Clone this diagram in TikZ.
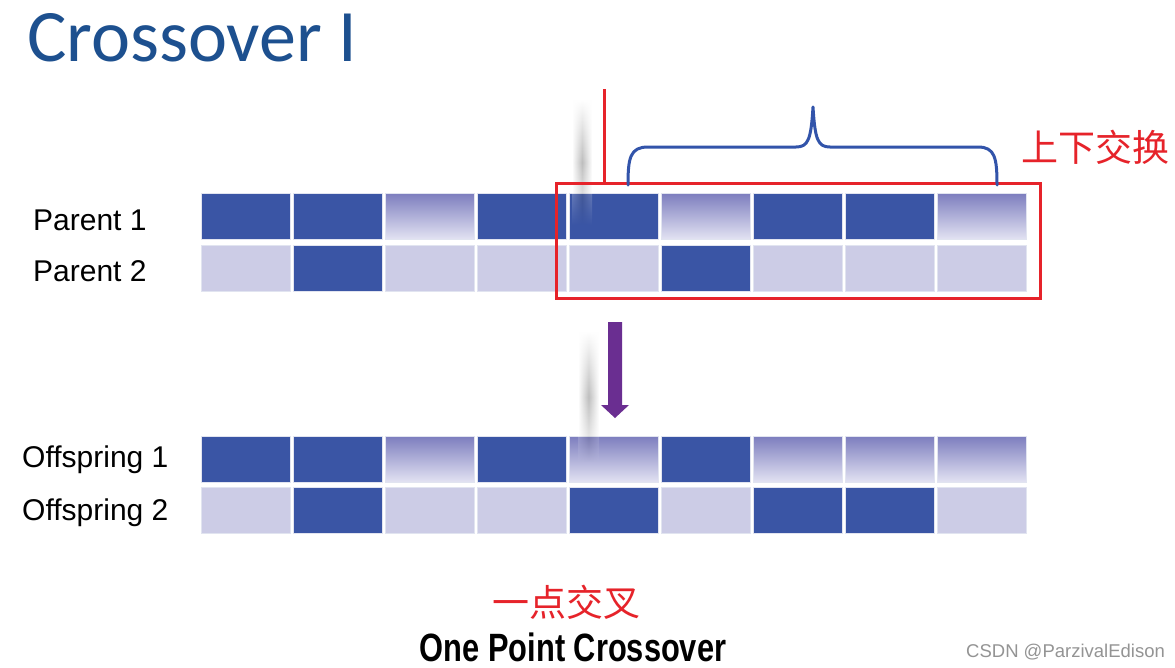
\documentclass[tikz,border=0pt]{standalone}
\usepackage{fontspec}
\setmainfont{Liberation Sans}
\newfontfamily\cjk{Noto Sans CJK SC}
\newfontfamily\titlefont{Carlito}
\usetikzlibrary{fadings}
\definecolor{dk}{RGB}{58,85,165}
\definecolor{lt}{RGB}{204,204,230}
\definecolor{gtop}{RGB}{124,125,190}
\definecolor{gbot}{RGB}{226,226,242}
\definecolor{cellline}{RGB}{225,228,240}
\definecolor{titleblue}{RGB}{29,80,143}
\definecolor{swapred}{RGB}{230,35,42}
\definecolor{bracecol}{RGB}{50,84,170}
\definecolor{arrowpurple}{RGB}{106,46,145}
\tikzfading[name=fadeboth, top color=transparent!100, bottom color=transparent!100, middle color=transparent!15]
\tikzset{
  cell/.style={minimum width=89pt, minimum height=46pt, inner sep=0pt, outer sep=0pt, draw=cellline, line width=0.6pt},
  cellD/.style={cell, fill=dk},
  cellL/.style={cell, fill=lt},
  cellG/.style={cell, top color=gtop, bottom color=gbot},
  rowlabel/.style={anchor=base west, inner sep=0pt, font=\fontsize{30}{36}\selectfont},
  redbox/.style={draw=swapred, line width=3pt, minimum width=484pt, minimum height=115pt, inner sep=0pt},
  cutline/.style={draw=swapred, line width=3pt},
  bracestyle/.style={draw=bracecol, line width=3pt, line cap=round, line join=round},
  shadowstrip/.style={left color=white, right color=white, middle color=black!60, path fading=fadeboth, opacity=0.5}
}
\newcommand{\rowcells}[3]{%
  \foreach \t [count=\i] in {#3} {%
    \edef\tmp{\noexpand\node[cell\t] (#1-\i) at ({245.5+92*(\i-1)},#2) {};}%
    \tmp
  }}
\begin{document}
\begin{tikzpicture}[x=1pt, y=-1pt]
\useasboundingbox (0,0) rectangle (1175,667);
\fill[white] (0,0) rectangle (1175,667);

% title
\node[anchor=base west, inner sep=0pt, text=titleblue, font=\titlefont\fontsize{74}{80}\selectfont] (title) at (27,61) {Crossover I};

% rows
\rowcells{pa}{216}{D,D,G,D,D,G,D,D,G}
\rowcells{pb}{268}{L,D,L,L,L,D,L,L,L}
\rowcells{oa}{459}{D,D,G,D,G,D,G,G,G}
\rowcells{ob}{510.5}{L,D,L,L,D,L,D,D,L}

% row labels
\node[rowlabel] (lpa) at (33,230) {Parent 1};
\node[rowlabel] (lpb) at (33,281) {Parent 2};
\node[rowlabel] (loa) at (22,467) {Offspring 1};
\node[rowlabel] (lob) at (22,520) {Offspring 2};

% shadows
\shade[shadowstrip] (572,100) rectangle (592,225);
\shade[shadowstrip] (578,332) rectangle (599,462);

% swap box and cut line
\node[redbox] (swap) at (798,240.5) {};
\coordinate (cuttop) at (604,89);
\draw[cutline] (cuttop) -- (cuttop |- swap.north);

% brace
\coordinate (lbr) at (628,185);
\coordinate (rbr) at (997,185);
\coordinate (tip) at (813,107);
\draw[bracestyle] (lbr) .. controls (628,158) and (630,147) .. (648,147) -- (796,147)
   .. controls (808,147) and (811,140) .. (tip)
   .. controls (815,140) and (818,147) .. (830,147) -- (978,147)
   .. controls (995,147) and (997,158) .. (rbr);
\node[text=swapred, font=\cjk\fontsize{37}{40}\selectfont, inner sep=0pt] (swaplabel) at (1095,147) {上下交换};

% arrow
\coordinate (arrtop) at (615,322);
\coordinate (arrtip) at (615,418);
\fill[arrowpurple] ([xshift=-7pt]arrtop) -- ([xshift=7pt]arrtop) -- ([xshift=7pt,yshift=13pt]arrtip)
  -- ([xshift=14pt,yshift=13pt]arrtip) -- (arrtip) -- ([xshift=-14pt,yshift=13pt]arrtip)
  -- ([xshift=-7pt,yshift=13pt]arrtip) -- cycle;

% captions
\node[text=swapred, font=\cjk\fontsize{37}{40}\selectfont, inner sep=0pt] (cn) at (566,602) {一点交叉};
\node[anchor=base, inner sep=0pt, font=\bfseries\fontsize{39.5}{44}\selectfont] (en) at (573,661) {\scalebox{0.78}[1]{One Point Crossover}};
\node[anchor=base west, inner sep=0pt, text=black!42, font=\fontsize{18.5}{20}\selectfont] (wm) at (966,657) {CSDN @ParzivalEdison};
\end{tikzpicture}
\end{document}
